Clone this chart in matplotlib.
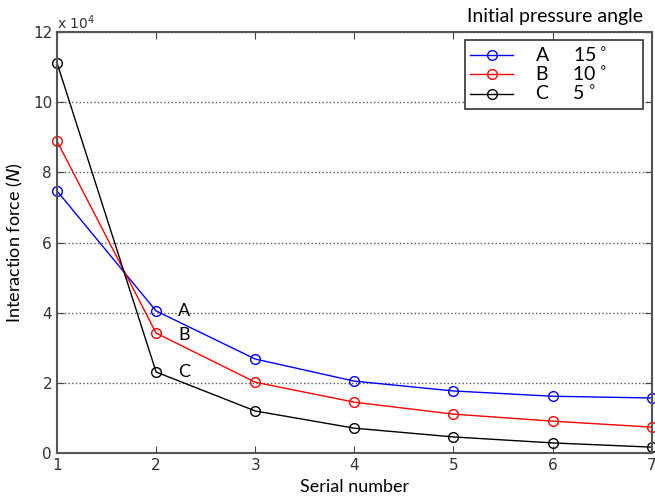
import numpy as np
from matplotlib import pyplot as plt

serial = [1, 2, 3, 4, 5, 6, 7]
force_a = [7.47, 4.05, 2.68, 2.05, 1.77, 1.62, 1.57]
force_b = [8.89, 3.42, 2.02, 1.45, 1.11, 0.91, 0.74]
force_c = [11.12, 2.31, 1.20, 0.71, 0.46, 0.29, 0.17]
labels = ['A     15$^\\circ$      ', 'B     10$^\\circ$      ', 'C     5$^\\circ$      ']
scale = 1e4

fig = plt.figure(figsize=(6.55, 4.99), dpi=100)
ax = fig.add_axes([0.087, 0.092, 0.908, 0.844])

for ys, col, lab in zip([force_a, force_b, force_c], ['#0000ff', '#ff0000', '#000000'], labels):
    ax.plot(serial, np.array(ys) * scale, color=col, marker='o', markersize=7,
            markerfacecolor='none', markeredgecolor=col, linewidth=1, label=lab, clip_on=False)

# letters next to the second points
ax.text(2.22, 4.05 * scale, 'A', fontsize=13, va='center', family='Lato')
ax.text(2.22, 3.36 * scale, 'B', fontsize=13, va='center', family='Lato')
ax.text(2.22, 2.31 * scale, 'C', fontsize=13, va='center', family='Lato')

ax.set_xlim(1, 7)
ax.set_ylim(0, 12e4)
ax.set_xticks(serial)
ax.set_yticks(np.arange(0, 13, 2) * scale)
ax.set_yticklabels([str(v) for v in range(0, 13, 2)])
ax.tick_params(direction='in', labelsize=11, colors='#444444', labelcolor='#333333',
               top=True, right=True, length=5)
for s in ax.spines.values():
    s.set_color('#555555')
    s.set_linewidth(1.5)
ax.yaxis.grid(True, linestyle=':', color='#555555', linewidth=1)
ax.text(0, 1.008, 'x 10$^4$', transform=ax.transAxes, fontsize=10, color='#333333')

ax.set_xlabel('Serial number', fontsize=13, family='Lato', labelpad=4)
ax.set_ylabel('Interaction force ($N$)', fontsize=13, family='Lato', labelpad=6)

leg = ax.legend(loc='upper right', bbox_to_anchor=(0.985, 0.981),
                prop={'family': 'Lato', 'size': 14}, fancybox=False, edgecolor='#333333',
                framealpha=1, borderpad=0.3, labelspacing=0.0, handlelength=2.2,
                handletextpad=1.1, borderaxespad=0)
leg.get_frame().set_linewidth(1.2)
fig.text(0.981, 0.966, 'Initial pressure angle', ha='right', va='center', fontsize=14, family='Lato')

fig.savefig('out.png')
